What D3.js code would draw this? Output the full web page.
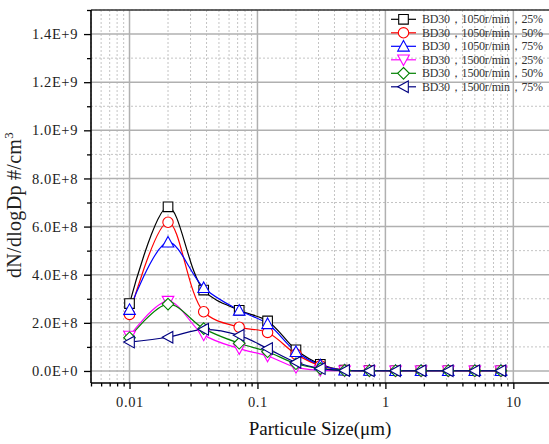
<!DOCTYPE html>
<html>
<head>
<meta charset="utf-8">
<script src="https://cdn.jsdelivr.net/npm/d3@7"></script>
<style>
  body { margin: 0; background: #fff; }
  svg { display: block; }
</style>
</head>
<body>
<script>
// Chart size
var width = 549;
var height = 444;
var plotLeft = 91, plotRight = 549, plotTop = 10, plotBottom = 383;

// Data
var sizes = [0.01, 0.02, 0.038, 0.072, 0.12, 0.2, 0.31, 0.48, 0.75, 1.2, 1.9, 3.1, 5.0, 8.0];

var bd1050r25 = [2.80e8, 6.82e8, 3.36e8, 2.52e8, 2.08e8, 0.88e8, 0.28e8, 0.04e8, 0.02e8, 0.01e8, 0.01e8, 0.01e8, 0.01e8, 0.01e8];
var bd1050r50 = [2.35e8, 6.18e8, 2.46e8, 1.82e8, 1.60e8, 0.70e8, 0.22e8, 0.03e8, 0.02e8, 0.01e8, 0.01e8, 0.01e8, 0.01e8, 0.01e8];
var bd1050r75 = [2.55e8, 5.35e8, 3.46e8, 2.52e8, 1.96e8, 0.80e8, 0.25e8, 0.03e8, 0.02e8, 0.01e8, 0.01e8, 0.01e8, 0.01e8, 0.01e8];
var bd1500r25 = [1.45e8, 2.90e8, 1.50e8, 0.93e8, 0.62e8, 0.15e8, 0.03e8, 0.01e8, 0.01e8, 0.01e8, 0.01e8, 0.01e8, 0.01e8, 0.01e8];
var bd1500r50 = [1.38e8, 2.78e8, 1.76e8, 1.15e8, 0.80e8, 0.30e8, 0.10e8, 0.02e8, 0.01e8, 0.01e8, 0.01e8, 0.01e8, 0.01e8, 0.01e8];
var bd1500r75 = [1.20e8, 1.40e8, 1.73e8, 1.48e8, 0.93e8, 0.36e8, 0.10e8, 0.02e8, 0.01e8, 0.01e8, 0.01e8, 0.01e8, 0.01e8, 0.01e8];

var seriesNames = [
    'BD30，1050r/min，25%',
    'BD30，1050r/min，50%',
    'BD30，1050r/min，75%',
    'BD30，1500r/min，25%',
    'BD30，1500r/min，50%',
    'BD30，1500r/min，75%'
];
var seriesValues = [bd1050r25, bd1050r50, bd1050r75, bd1500r25, bd1500r50, bd1500r75];
var seriesColors = ['#000000', '#ff0000', '#0000ff', '#ff00ff', '#008000', '#000080'];
var seriesSymbols = ['square', 'circle', 'up', 'down', 'diamond', 'left'];

var xTicks = [0.01, 0.1, 1, 10];
var xTickLabels = ['0.01', '0.1', '1', '10'];
var yTicks = [0, 2e8, 4e8, 6e8, 8e8, 1e9, 1.2e9, 1.4e9];
var yTickLabels = ['0.0E+0', '2.0E+8', '4.0E+8', '6.0E+8', '8.0E+8', '1.0E+9', '1.2E+9', '1.4E+9'];
var yMinorTicks = [1e8, 3e8, 5e8, 7e8, 9e8, 1.1e9, 1.3e9, 1.5e9];

var xLabel = 'Particule Size(μm)';
var yLabel = 'dN/dlogDp #/cm';

var serifFont = '"Liberation Serif", "Times New Roman", serif';

function onload() {
    var svg = d3.select('body').append('svg')
        .attr('width', width)
        .attr('height', height);

    var x = d3.scaleLog().domain([0.005, 19]).range([plotLeft, plotRight]);
    var y = d3.scaleLinear().domain([-5e7, 1.5e9]).range([plotBottom, plotTop]);

    var xMinorTicks = [];
    [0.001, 0.01, 0.1, 1, 10].forEach(function(dec) {
        for (var k = 2; k <= 9; k++) {
            var v = dec * k;
            if (v >= 0.005 && v <= 19) xMinorTicks.push(v);
        }
    });

    svg.append('defs').append('clipPath').attr('id', 'plotclip')
        .append('rect')
        .attr('x', plotLeft).attr('y', plotTop)
        .attr('width', plotRight - plotLeft).attr('height', plotBottom - plotTop);

    // grid
    var grid = svg.append('g');
    grid.selectAll('.xminor').data(xMinorTicks).enter().append('line')
        .attr('x1', function(d) { return x(d); }).attr('x2', function(d) { return x(d); })
        .attr('y1', plotTop).attr('y2', plotBottom)
        .attr('stroke', '#c4c4c4').attr('stroke-width', 1).attr('stroke-dasharray', '2,2');
    grid.selectAll('.yminor').data(yMinorTicks).enter().append('line')
        .attr('x1', plotLeft).attr('x2', plotRight)
        .attr('y1', function(d) { return y(d); }).attr('y2', function(d) { return y(d); })
        .attr('stroke', '#c4c4c4').attr('stroke-width', 1).attr('stroke-dasharray', '2,2');
    grid.selectAll('.xmajor').data(xTicks).enter().append('line')
        .attr('x1', function(d) { return x(d); }).attr('x2', function(d) { return x(d); })
        .attr('y1', plotTop).attr('y2', plotBottom)
        .attr('stroke', '#b0b0b0').attr('stroke-width', 1.5);
    grid.selectAll('.ymajor').data(yTicks).enter().append('line')
        .attr('x1', plotLeft).attr('x2', plotRight)
        .attr('y1', function(d) { return y(d); }).attr('y2', function(d) { return y(d); })
        .attr('stroke', '#b0b0b0').attr('stroke-width', 1.5);

    // curves
    var line = d3.line()
        .x(function(d) { return x(d[0]); })
        .y(function(d) { return y(d[1]); })
        .curve(d3.curveCatmullRom.alpha(0.5));

    var plot = svg.append('g').attr('clip-path', 'url(#plotclip)');
    seriesValues.forEach(function(vals, i) {
        var pts = sizes.map(function(s, j) { return [s, vals[j]]; });
        plot.append('path')
            .attr('d', line(pts))
            .attr('fill', 'none')
            .attr('stroke', seriesColors[i])
            .attr('stroke-width', 1.2);
    });
    seriesValues.forEach(function(vals, i) {
        sizes.forEach(function(s, j) {
            drawMarker(plot, seriesSymbols[i], x(s), y(vals[j]), seriesColors[i]);
        });
    });

    // axes
    var xAxis = d3.axisBottom(x).tickValues(xTicks).tickSize(6).tickPadding(8)
        .tickFormat(function(d, i) { return xTickLabels[i]; });
    var xAxisMinor = d3.axisBottom(x).tickValues(xMinorTicks).tickSize(3.5).tickFormat('');
    var yAxis = d3.axisLeft(y).tickValues(yTicks).tickSize(7).tickPadding(6)
        .tickFormat(function(d, i) { return yTickLabels[i]; });
    var yAxisMinor = d3.axisLeft(y).tickValues(yMinorTicks).tickSize(4).tickFormat('');

    var gx = svg.append('g').attr('transform', 'translate(0,' + plotBottom + ')');
    gx.call(xAxisMinor);
    gx.append('g').call(xAxis);
    var gy = svg.append('g').attr('transform', 'translate(' + plotLeft + ',0)');
    gy.call(yAxisMinor);
    gy.append('g').call(yAxis);

    svg.selectAll('.domain').remove();
    svg.selectAll('.tick line').attr('stroke', '#000').attr('stroke-width', 1.3);
    svg.selectAll('.tick text')
        .attr('font-family', serifFont)
        .attr('font-size', 14.5)
        .attr('letter-spacing', 0.6)
        .attr('fill', '#222');

    // frame
    svg.append('line').attr('x1', plotLeft).attr('x2', plotRight)
        .attr('y1', plotBottom).attr('y2', plotBottom)
        .attr('stroke', '#000').attr('stroke-width', 1.6);
    svg.append('line').attr('x1', plotLeft).attr('x2', plotRight)
        .attr('y1', plotTop).attr('y2', plotTop)
        .attr('stroke', '#333').attr('stroke-width', 1.6);
    svg.append('line').attr('x1', plotLeft).attr('x2', plotLeft)
        .attr('y1', plotTop).attr('y2', plotBottom)
        .attr('stroke', '#000').attr('stroke-width', 1.6);

    // axis titles
    svg.append('text')
        .attr('x', (plotLeft + plotRight) / 2)
        .attr('y', 435)
        .attr('text-anchor', 'middle')
        .attr('font-family', serifFont)
        .attr('font-size', 19)
        .attr('fill', '#111')
        .text(xLabel);

    var yt = svg.append('text')
        .attr('transform', 'translate(21,' + 205 + ') rotate(-90)')
        .attr('text-anchor', 'middle')
        .attr('font-family', serifFont)
        .attr('font-size', 20)
        .attr('letter-spacing', 0.3)
        .attr('fill', '#222');
    yt.append('tspan').text(yLabel);
    yt.append('tspan').attr('dy', -8).attr('font-size', 13).text('3');

    // legend
    var legend = svg.append('g');
    var rowY = [19.3, 32.8, 46.3, 59.8, 73.3, 86.8];
    seriesNames.forEach(function(name, i) {
        var g = legend.append('g').attr('transform', 'translate(0,' + rowY[i] + ')');
        g.append('line').attr('x1', 391).attr('x2', 416).attr('y1', 0).attr('y2', 0)
            .attr('stroke', seriesColors[i]).attr('stroke-width', 1.2);
        drawMarker(g, seriesSymbols[i], 403.5, 0, seriesColors[i]);
        g.append('text')
            .attr('x', 422)
            .attr('y', 4)
            .attr('font-family', serifFont)
            .attr('font-size', 12)
            .attr('textLength', 121)
            .attr('lengthAdjust', 'spacing')
            .attr('fill', '#333')
            .text(name);
    });
}

function drawMarker(parent, type, cx, cy, color) {
    var h = 4.8;
    var p;
    if (type === 'circle') {
        parent.append('circle').attr('cx', cx).attr('cy', cy).attr('r', h + 0.4)
            .attr('fill', '#fff').attr('stroke', color).attr('stroke-width', 1.1);
        return;
    }
    if (type === 'square') {
        p = [[-h, -h], [h, -h], [h, h], [-h, h]];
    } else if (type === 'up') {
        p = [[0, -h - 1], [h + 1, h], [-h - 1, h]];
    } else if (type === 'down') {
        p = [[0, h + 1], [h + 1, -h], [-h - 1, -h]];
    } else if (type === 'diamond') {
        p = [[0, -h - 1], [h + 1, 0], [0, h + 1], [-h - 1, 0]];
    } else {
        p = [[-h - 1, 0], [h, -h - 1], [h, h + 1]];
    }
    parent.append('path')
        .attr('d', 'M' + p.map(function(q) { return (cx + q[0]) + ',' + (cy + q[1]); }).join('L') + 'Z')
        .attr('fill', '#fff').attr('stroke', color).attr('stroke-width', 1.1);
}

onload();
</script>
</body>
</html>
